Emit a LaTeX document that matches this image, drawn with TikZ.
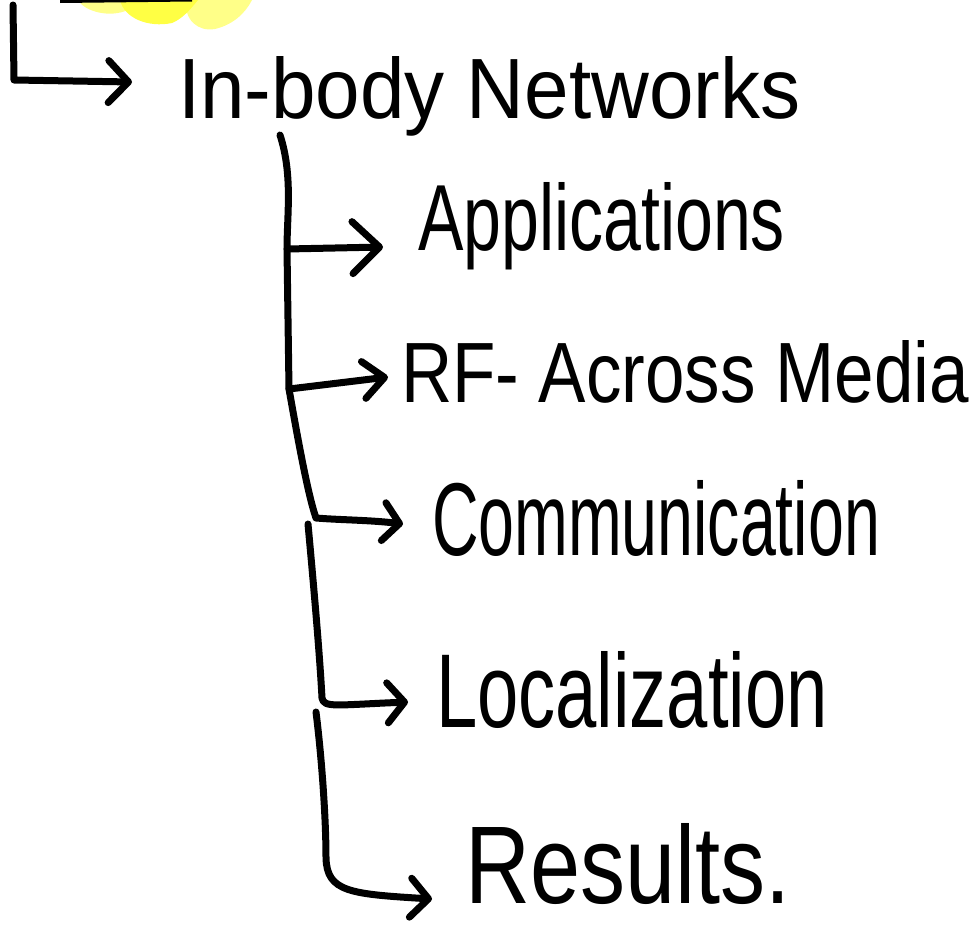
\documentclass[tikz,border=0pt]{standalone}
\usepackage{fontspec}
\setmainfont{Liberation Sans}
\usetikzlibrary{arrows.meta}
\definecolor{hlA}{HTML}{FFFF88}
\definecolor{hlB}{HTML}{FFFF44}
\begin{document}
\begin{tikzpicture}[x=1pt,y=-1pt,
  ink/.style={line width=7pt, line cap=round, line join=round, draw=black},
  arr/.style args={#1/#2}{ink, -{Straight Barb[length=#1pt,width=#2pt,round]}},
  lbl/.style={inner sep=0pt, outer sep=0pt, anchor=base west}]
\useasboundingbox (0,0) rectangle (977,926);
% yellow highlight at the top
\fill[hlA] (78,0) .. controls (85,12) and (110,18) .. (128,10) -- (128,0) -- cycle;
\fill[hlA] (186,0) .. controls (184,20) and (198,32) .. (215,29) .. controls (232,25) and (245,14) .. (252,0) -- cycle;
\fill[hlB] (120,0) .. controls (124,18) and (148,28) .. (172,23) .. controls (182,19) and (190,10) .. (198,0) -- cycle;
\fill[black] (60,0) -- (192,0) -- (192,1.5) -- (60,3) -- cycle;
% labels
\node[lbl] (inb) at (178,118) {\resizebox{622pt}{62pt}{In-body Networks}};
\node[lbl] (app) at (418,250) {\resizebox{367pt}{68pt}{Applications}};
\node[lbl] (rf)  at (401,402) {\resizebox{568pt}{62pt}{RF- Across Media}};
\node[lbl] (com) at (432,555) {\resizebox{448pt}{75pt}{Communication}};
\node[lbl] (loc) at (436,727) {\resizebox{392pt}{76pt}{Localization}};
\node[lbl] (res) at (465,903) {\resizebox{325pt}{80pt}{Results.}};
% connector points
\coordinate (r0) at (13,5);
\coordinate (c0) at (14,80);
\coordinate (t0) at (132,82);
\coordinate (s1) at (280,135);
\coordinate (b1) at (287,249);
\coordinate (b2) at (289,389);
\coordinate (e1) at (316,518);
\coordinate (t1) at (383,247);
\coordinate (t2) at (388,377);
\coordinate (t3) at (403,524);
\coordinate (s2) at (308,524);
\coordinate (c4) at (322,698);
\coordinate (t4) at (408,702);
\coordinate (s3) at (316,712);
\coordinate (c5) at (326,858);
\coordinate (t5) at (432,899);
% connectors
\draw[arr=20/42] (r0) -- (c0) -- (t0);
\draw[arr=16/38] (s1) .. controls (293,175) and (287,215) .. (b1) -- (b2)
   .. controls (298,440) and (308,495) .. (e1) .. controls (340,520) and (370,520) .. (t3);
\draw[arr=27/52] (b1) -- (t1);
\draw[arr=21/37] (b2) -- (t2);
\draw[arr=17/40] (s2) .. controls (315,600) and (320,660) .. (c4) .. controls (324,708) and (335,705) .. (t4);
\draw[arr=18/39] (s3) .. controls (322,760) and (326,820) .. (c5) .. controls (327,892) and (350,894) .. (t5);
\end{tikzpicture}
\end{document}
